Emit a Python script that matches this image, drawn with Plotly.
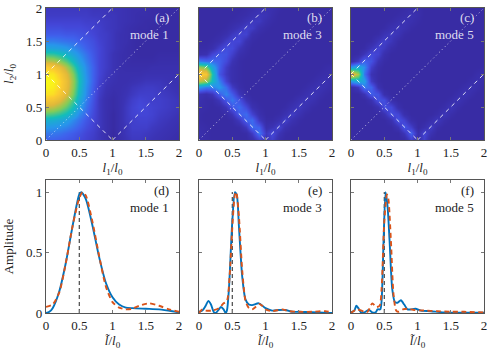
import plotly.graph_objects as go

grid = [0,.1,.2,.3,.4,.5,.6,.7,.8,.9,1,1.1,1.2,1.3,1.4,1.5,1.6,1.7,1.8,1.9,2]
mode1_map = [
 [20,20,19,18,17,15,13,11, 9, 6, 2, 5, 8,10,10, 9, 8, 7, 6, 5, 4],
 [24,24,23,21,19,17,14,12, 9, 6, 2, 6, 9,11,11,10, 9, 8, 7, 6, 5],
 [30,29,28,26,23,20,16,13,10, 6, 3, 6, 9,12,12,12,10, 9, 8, 7, 6],
 [38,37,35,32,27,23,18,14,10, 6, 3, 6,10,12,13,13,12,10, 9, 8, 7],
 [52,50,47,42,35,27,21,15,10, 6, 3, 6,10,13,14,14,13,11,10, 9, 8],
 [68,66,61,53,43,32,23,16,10, 6, 4, 6,10,13,15,14,13,12,11,10, 9],
 [82,80,74,63,50,36,25,17,10, 6, 4, 6, 9,12,14,13,12,12,11,10, 9],
 [93,91,84,72,56,40,27,18,11, 7, 5, 6, 8,10,12,12,12,11,10, 9, 8],
 [98,96,89,76,59,42,28,19,12, 8, 6, 6, 7, 9,10,11,11,10, 9, 8, 7],
 [100,98,90,77,60,43,29,20,13, 9, 7, 6, 6, 7, 8, 9, 9, 9, 8, 7, 7],
 [96,94,86,73,57,41,28,20,14,10, 8, 6, 6, 6, 6, 7, 7, 7, 7, 7, 7],
 [85,83,76,64,50,37,27,20,14,11, 8, 6, 5, 5, 5, 5, 6, 6, 6, 6, 6],
 [66,64,59,51,41,32,25,19,14,11, 8, 6, 5, 4, 4, 4, 4, 5, 5, 5, 5],
 [48,47,44,39,33,28,23,18,14,11, 8, 6, 5, 4, 3, 3, 3, 4, 4, 4, 4],
 [34,33,32,30,27,24,20,17,14,11, 9, 7, 5, 4, 3, 3, 3, 3, 3, 3, 3],
 [25,25,24,23,22,20,18,16,13,11, 9, 7, 6, 4, 3, 3, 3, 3, 3, 3, 3],
 [19,19,19,18,18,17,16,14,12,11, 9, 7, 6, 5, 4, 3, 3, 3, 3, 3, 3],
 [16,16,16,15,15,15,14,13,12,10, 9, 8, 6, 5, 4, 4, 3, 3, 3, 3, 3],
 [13,13,13,13,13,13,12,12,11,10, 9, 8, 7, 6, 5, 4, 4, 3, 3, 3, 3],
 [11,11,11,11,11,11,11,10,10, 9, 9, 8, 7, 6, 5, 5, 4, 4, 3, 3, 3],
 [10,10,10,10,10,10,10, 9, 9, 9, 8, 8, 7, 6, 6, 5, 4, 4, 4, 3, 3],
]
mode3_map = [
 [ 5, 4, 3, 3, 3, 3, 3, 3, 5,12, 8,12, 5, 3, 3, 3, 3, 3, 3, 3, 3],
 [ 6, 4, 3, 3, 3, 3, 3, 4,11,24,10,15, 8, 4, 3, 3, 3, 3, 3, 3, 3],
 [ 5, 4, 3, 3, 3, 3, 4,10,22,20, 6, 8,13, 7, 4, 3, 3, 3, 3, 3, 3],
 [ 4, 3, 3, 3, 3, 4,10,20,22,10, 4, 4, 7,12, 7, 4, 3, 3, 3, 3, 3],
 [ 4, 3, 3, 3, 4, 9,19,22,13, 6, 3, 3, 4, 7,11, 7, 4, 3, 3, 3, 3],
 [ 5, 4, 3, 4, 9,18,22,15, 7, 4, 3, 3, 3, 4, 7,10, 7, 4, 3, 3, 3],
 [ 6, 4, 4, 9,18,24,17, 8, 4, 3, 3, 3, 3, 3, 4, 7, 9, 7, 4, 3, 3],
 [ 8, 6, 9,19,26,19, 9, 4, 3, 3, 3, 3, 3, 3, 3, 4, 6, 9, 6, 4, 3],
 [30,25,25,30,22,11, 5, 3, 3, 3, 3, 3, 3, 3, 3, 3, 4, 6, 8, 6, 4],
 [65,60,42,26,13, 6, 4, 3, 3, 3, 3, 3, 3, 3, 3, 3, 3, 4, 6, 7, 5],
 [88,82,45,18,10, 6, 4, 3, 3, 3, 3, 3, 3, 3, 3, 3, 3, 3, 4, 5, 6],
 [60,55,35,20,11, 6, 4, 3, 3, 3, 3, 3, 3, 3, 3, 3, 3, 3, 3, 4, 5],
 [25,22,22,20,15, 8, 4, 3, 3, 3, 3, 3, 3, 3, 3, 3, 3, 3, 3, 3, 3],
 [ 6, 7,14,18,17,12, 6, 4, 3, 3, 3, 3, 3, 3, 3, 3, 3, 3, 3, 3, 3],
 [ 4, 4, 6,12,16,15, 9, 5, 3, 3, 3, 3, 3, 3, 3, 3, 3, 3, 3, 3, 3],
 [ 3, 3, 4, 6,11,14,14, 7, 4, 3, 3, 3, 3, 3, 3, 3, 3, 3, 3, 3, 3],
 [ 3, 3, 3, 4, 6,10,13,13, 6, 4, 3, 3, 3, 3, 3, 3, 3, 3, 3, 3, 3],
 [ 3, 3, 3, 3, 4, 6, 9,12,11, 6, 4, 3, 3, 3, 3, 3, 3, 3, 3, 3, 3],
 [ 3, 3, 3, 3, 3, 4, 5, 8,10,10, 6, 4, 3, 3, 3, 3, 3, 3, 3, 3, 3],
 [ 3, 3, 3, 3, 3, 3, 4, 5, 7, 9, 8, 5, 3, 3, 3, 3, 3, 3, 3, 3, 3],
 [ 3, 3, 3, 3, 3, 3, 3, 4, 5, 7, 7, 6, 4, 3, 3, 3, 3, 3, 3, 3, 3],
]
mode5_map = [
 [ 3, 3, 3, 3, 3, 3, 3, 3, 3,12, 6,12, 3, 3, 3, 3, 3, 3, 3, 3, 3],
 [ 3, 3, 3, 3, 3, 3, 3, 3, 9,20, 6,14, 7, 3, 3, 3, 3, 3, 3, 3, 3],
 [ 3, 3, 3, 3, 3, 3, 3, 8,18,12, 3, 6,11, 5, 3, 3, 3, 3, 3, 3, 3],
 [ 3, 3, 3, 3, 3, 3, 7,17,13, 5, 3, 3, 6,10, 5, 3, 3, 3, 3, 3, 3],
 [ 3, 3, 3, 3, 3, 7,16,14, 6, 3, 3, 3, 3, 5, 9, 5, 3, 3, 3, 3, 3],
 [ 3, 3, 3, 3, 7,16,15, 6, 3, 3, 3, 3, 3, 3, 5, 9, 5, 3, 3, 3, 3],
 [ 3, 3, 3, 7,17,16, 6, 3, 3, 3, 3, 3, 3, 3, 3, 5, 8, 5, 3, 3, 3],
 [ 3, 3, 8,19,17, 6, 3, 3, 3, 3, 3, 3, 3, 3, 3, 3, 5, 8, 5, 3, 3],
 [ 5,10,24,21, 7, 3, 3, 3, 3, 3, 3, 3, 3, 3, 3, 3, 3, 5, 7, 5, 3],
 [30,36,32,11, 4, 3, 3, 3, 3, 3, 3, 3, 3, 3, 3, 3, 3, 3, 5, 6, 4],
 [82,62,24, 8, 4, 3, 3, 3, 3, 3, 3, 3, 3, 3, 3, 3, 3, 3, 3, 5, 6],
 [30,36,28,12, 5, 3, 3, 3, 3, 3, 3, 3, 3, 3, 3, 3, 3, 3, 3, 3, 4],
 [ 5,11,20,17, 8, 4, 3, 3, 3, 3, 3, 3, 3, 3, 3, 3, 3, 3, 3, 3, 3],
 [ 3, 4, 9,15,13, 6, 3, 3, 3, 3, 3, 3, 3, 3, 3, 3, 3, 3, 3, 3, 3],
 [ 3, 3, 4, 9,13,10, 5, 3, 3, 3, 3, 3, 3, 3, 3, 3, 3, 3, 3, 3, 3],
 [ 3, 3, 3, 4, 9,12, 9, 4, 3, 3, 3, 3, 3, 3, 3, 3, 3, 3, 3, 3, 3],
 [ 3, 3, 3, 3, 4, 8,10, 8, 4, 3, 3, 3, 3, 3, 3, 3, 3, 3, 3, 3, 3],
 [ 3, 3, 3, 3, 3, 4, 7, 9, 7, 4, 3, 3, 3, 3, 3, 3, 3, 3, 3, 3, 3],
 [ 3, 3, 3, 3, 3, 3, 4, 6, 8, 6, 4, 3, 3, 3, 3, 3, 3, 3, 3, 3, 3],
 [ 3, 3, 3, 3, 3, 3, 3, 4, 5, 7, 5, 3, 3, 3, 3, 3, 3, 3, 3, 3, 3],
 [ 3, 3, 3, 3, 3, 3, 3, 3, 4, 5, 5, 3, 3, 3, 3, 3, 3, 3, 3, 3, 3],
]

mode1_sim_x = [0,.05,.1,.2,.3,.4,.5,.53,.6,.7,.8,.9,1,1.1,1.2,1.3,1.5,1.7,1.9,2]
mode1_sim_y = [0,.01,.04,.18,.42,.72,.98,1,.94,.72,.46,.25,.13,.07,.045,.04,.035,.03,.015,.005]
mode1_fit_x = [0,.1,.2,.3,.4,.5,.55,.6,.7,.8,.9,1,1.1,1.2,1.3,1.4,1.55,1.7,1.85,2]
mode1_fit_y = [.05,.07,.17,.42,.72,.95,1,.97,.75,.47,.22,.09,.045,.03,.035,.06,.08,.06,.03,.01]
mode3_sim_x = [0,.05,.1,.14,.18,.22,.25,.3,.33,.37,.4,.42,.45,.5,.54,.57,.6,.65,.7,.75,.8,.9,1,1.1,1.2,1.3,1.4,1.5,1.6,1.8,2]
mode3_sim_y = [.01,.02,.06,.1,.07,.01,0,.03,.05,.03,0,.02,.2,.75,1,.97,.72,.3,.11,.07,.065,.08,.04,.02,.025,.025,.01,.01,.008,.005,0]
mode3_fit_x = [0,.05,.1,.2,.3,.37,.42,.46,.5,.54,.56,.6,.65,.7,.75,.8,.85,.9,.95,1,1.1,1.25,1.35,1.5,1.7,1.9,2]
mode3_fit_y = [0,.03,.02,.02,.04,.08,.1,.3,.7,.98,1,.8,.35,.1,.04,.03,.05,.075,.06,.03,.015,.03,.015,.01,.01,.015,.005]
mode5_sim_x = [0,.05,.08,.11,.15,.2,.27,.32,.37,.4,.44,.46,.49,.52,.55,.58,.62,.66,.7,.75,.8,.85,.9,.97,1.05,1.2,1.4,2]
mode5_sim_y = [.005,.02,.06,.04,.005,.005,.025,.005,.005,.03,.03,.1,.6,1,.88,.6,.2,.09,.085,.105,.07,.03,.03,.035,.02,.015,.005,.002]
mode5_fit_x = [0,.05,.1,.2,.25,.32,.38,.43,.46,.5,.54,.56,.6,.64,.68,.72,.78,.85,.95,1.1,1.3,1.5,1.7,2]
mode5_fit_y = [0,.02,.03,.01,.01,.08,.05,.06,.2,.75,.98,.95,.6,.15,.02,.01,.03,.035,.025,.02,.015,.01,.01,.005]
peak_x = [.5,.5]
peak_y = [0,1]
dash_lines = [([0,1],[1,2]), ([0,1],[1,0]), ([1,2],[0,1])]
dot_line = ([0,2],[0,2])
tick_vals = [0,.5,1,1.5,2]
tick_text = ["0","0.5","1","1.5","2"]
amp_vals = [0,.5,1]
amp_text = ["0","0.5","1"]
top_tags = ["(a)","(b)","(c)"]
bottom_tags = ["(d)","(e)","(f)"]
mode_names = ["mode 1","mode 3","mode 5"]

parula = [[0,"#36279A"],[.08,"#3B33B4"],[.14,"#4345D6"],[.2,"#3F60EC"],[.29,"#2796EB"],[.43,"#12BEB9"],[.57,"#81CC59"],
          [.71,"#E0B83A"],[.86,"#FCCB30"],[1,"#F9FB14"]]
FONT = "Liberation Serif"
FRAME = "#555555"
x_dom = [(46/492,179/492),(199/492,332/492),(351/492,484/492)]
top_dom = (1-140/354,1-8/354)
bot_dom = (1-313/354,1-180/354)

fig = go.Figure()
layout = dict(template="none",width=492,height=354,autosize=False,margin=dict(l=0,r=0,t=0,b=0,pad=0),
              paper_bgcolor="white",plot_bgcolor="white",showlegend=False,
              font=dict(family=FONT,size=11,color="#222"))
annots = []
def axis(dom, anchor, vals, text, rng, title, show, standoff=4):
    d = dict(domain=dom,anchor=anchor,range=rng,tickvals=vals,ticktext=text,showticklabels=show,automargin=False,
                ticks="inside",ticklen=3,tickwidth=0.8,tickcolor="#777",showline=True,linecolor=FRAME,
                linewidth=1.2,mirror="ticks",showgrid=False,zeroline=False,
                tickfont=dict(size=13,family=FONT,color="#222"))
    if title:
        d["title"] = dict(text=title,standoff=standoff,font=dict(size=13,family=FONT,color="#222"))
    return d

def axid(n):
    return "" if n == 1 else str(n)

maps = [mode1_map,mode3_map,mode5_map]
sims = [(mode1_sim_x,mode1_sim_y),(mode3_sim_x,mode3_sim_y),(mode5_sim_x,mode5_sim_y)]
fits = [(mode1_fit_x,mode1_fit_y),(mode3_fit_x,mode3_fit_y),(mode5_fit_x,mode5_fit_y)]
for i in range(3):
    n_top, n_bot = axid(2*i+1), axid(2*i+2)
    xa, ya = f"x{n_top}", f"y{n_top}"
    xb, yb = f"x{n_bot}", f"y{n_bot}"
    fig.add_trace(go.Heatmap(x=grid,y=grid,z=maps[i],zmin=0,zmax=100,colorscale=parula,zsmooth="best",
                             showscale=False,xaxis=xa,yaxis=ya))
    for lx,ly in dash_lines:
        fig.add_trace(go.Scatter(x=lx,y=ly,mode="lines",line=dict(color="rgba(255,255,255,.85)",width=1,dash="4px,4px"),xaxis=xa,yaxis=ya))
    fig.add_trace(go.Scatter(x=dot_line[0],y=dot_line[1],mode="lines",line=dict(color="rgba(255,255,255,.7)",width=1,dash="1px,3px"),xaxis=xa,yaxis=ya))
    fig.add_trace(go.Scatter(x=peak_x,y=peak_y,mode="lines",line=dict(color="#222",width=1,dash="4px,3px"),xaxis=xb,yaxis=yb))
    fig.add_trace(go.Scatter(x=sims[i][0],y=sims[i][1],mode="lines",line=dict(color="#0072BD",width=1.9,shape="spline",smoothing=0.7),xaxis=xb,yaxis=yb))
    fig.add_trace(go.Scatter(x=fits[i][0],y=fits[i][1],mode="lines",line=dict(color="#D95319",width=1.9,shape="spline",smoothing=0.7,dash="5px,3.5px"),xaxis=xb,yaxis=yb))
    l1 = "<i>l</i><sub>1</sub>/<i>l</i><sub>0</sub>"
    lb = "<i>l\u0303</i>/<i>l</i><sub>0</sub>"
    layout[f"xaxis{n_top}"] = axis(x_dom[i],ya,tick_vals,tick_text,[0,2],l1,True)
    layout[f"yaxis{n_top}"] = axis(top_dom,xa,tick_vals,tick_text,[0,2],"<i>l</i><sub>2</sub>/<i>l</i><sub>0</sub>" if i==0 else None,i==0,standoff=9)
    layout[f"xaxis{n_bot}"] = axis(x_dom[i],yb,tick_vals,tick_text,[0,2],lb,True)
    layout[f"yaxis{n_bot}"] = axis(bot_dom,xb,amp_vals,amp_text,[0,1.1],"Amplitude" if i==0 else None,i==0,standoff=9)
    for (ax,ay,tag,col) in ((xa,ya,top_tags[i],"rgba(255,255,255,.85)"),(xb,yb,bottom_tags[i],"#222")):
        ypx = 133
        annots.append(dict(xref=f"{ax} domain",yref=f"{ay} domain",x=0.94,y=1-10/ypx,text=tag,showarrow=False,
                           xanchor="right",yanchor="middle",font=dict(size=13,family=FONT,color=col)))
        annots.append(dict(xref=f"{ax} domain",yref=f"{ay} domain",x=0.94,y=1-27/ypx,text=mode_names[i],showarrow=False,
                           xanchor="right",yanchor="middle",font=dict(size=13,family=FONT,color=col)))
layout["annotations"] = annots
fig.update_layout(**layout)
fig.write_html("out.html", config=dict(displayModeBar=False),
               post_script="document.body.style.margin='0';document.documentElement.style.overflow='hidden';")
